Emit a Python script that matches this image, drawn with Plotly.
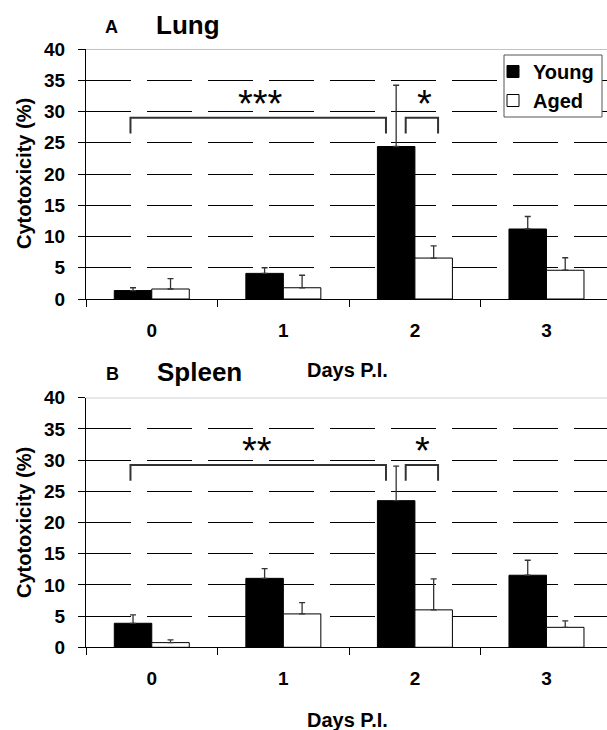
import plotly.graph_objects as go

# ---------------- data ----------------
days = ["0", "1", "2", "3"]
series_names = ["Young", "Aged"]

lung_young = [1.35, 4.1, 24.4, 11.2]
lung_young_err = [0.45, 0.9, 9.8, 2.0]
lung_aged = [1.6, 1.8, 6.55, 4.6]
lung_aged_err = [1.65, 2.0, 1.95, 2.0]

spleen_young = [3.85, 11.05, 23.5, 11.55]
spleen_young_err = [1.35, 1.55, 5.55, 2.4]
spleen_aged = [0.75, 5.35, 6.0, 3.2]
spleen_aged_err = [0.45, 1.8, 4.95, 1.05]

y_ticks = [0, 5, 10, 15, 20, 25, 30, 35, 40]

# significance marks: (label, bracket x0, bracket x1, star x)
lung_sig = [("***", -0.162, 1.78, 0.83), ("*", 1.93, 2.176, 2.074)]
spleen_sig = [("**", -0.162, 1.78, 0.80), ("*", 1.93, 2.176, 2.055)]

# ---------------- layout helpers ----------------
W, H = 607, 730
FONT = "Liberation Sans, Arial, sans-serif"


def px(x):
    return x / W


def py(y):
    return 1 - y / H


fig = go.Figure()

panels = [
    (lung_young, lung_young_err, lung_aged, lung_aged_err, "x", "y", True),
    (spleen_young, spleen_young_err, spleen_aged, spleen_aged_err, "x2", "y2", False),
]
for yv, ye, av, ae, xa, ya, show in panels:
    fig.add_trace(go.Bar(
        x=days, y=yv, name=series_names[0], xaxis=xa, yaxis=ya, showlegend=show,
        marker=dict(color="black", line=dict(color="black", width=1)),
        error_y=dict(type="data", array=ye, arrayminus=[0] * len(ye), symmetric=False,
                     color="#333", thickness=1.3, width=3),
    ))
    fig.add_trace(go.Bar(
        x=days, y=av, name=series_names[1], xaxis=xa, yaxis=ya, showlegend=show,
        marker=dict(color="white", line=dict(color="black", width=1)),
        error_y=dict(type="data", array=ae, arrayminus=[0] * len(ae), symmetric=False,
                     color="#333", thickness=1.3, width=3),
    ))

tickfont = dict(family=FONT, size=19, color="black", weight=700)

xcommon = dict(
    type="category", range=[-0.5, 3.46], domain=[px(86), 1],
    tickson="boundaries", ticks="outside", ticklen=7, tickcolor="black", tickwidth=1,
    showline=True, linecolor="black", linewidth=1, showgrid=False,
    tickfont=tickfont, ticklabelstandoff=14, automargin=False,
)
ycommon = dict(
    range=[0, 40], tickvals=y_ticks, ticks="outside", ticklen=7, tickcolor="black",
    tickwidth=1, showline=True, linecolor="black", linewidth=1,
    showgrid=True, gridcolor="black", gridwidth=1, griddash="45px,16px",
    zeroline=False, tickfont=tickfont, ticklabelstandoff=9, automargin=False,
)

fig.update_layout(
    width=W, height=H,
    margin=dict(l=0, r=0, t=0, b=0, autoexpand=False),
    paper_bgcolor="white", plot_bgcolor="white",
    barmode="group", bargap=0.43, bargroupgap=0,
    xaxis=dict(xcommon, anchor="y"),
    yaxis=dict(ycommon, domain=[py(299), py(49)], anchor="x"),
    xaxis2=dict(xcommon, anchor="y2"),
    yaxis2=dict(ycommon, domain=[py(647.3), py(397.7)], anchor="x2"),
    legend=dict(
        x=px(493), y=py(52), xanchor="left", yanchor="top",
        bgcolor="rgba(0,0,0,0)", borderwidth=0,
        font=dict(family=FONT, size=20, color="black", weight=700),
        tracegroupgap=0,
    ),
    showlegend=True,
)

shapes = []
annotations = []

# legend frame
shapes.append(dict(type="rect", xref="paper", yref="paper",
                   x0=px(504), x1=px(602), y0=py(117), y1=py(55),
                   line=dict(color="#555", width=1), fillcolor="white", layer="above"))

for sig, xa, ya, top, leg, stary in [
    (lung_sig, "x", "y", 29.0, 26.5, 31.2),
    (spleen_sig, "x2", "y2", 29.2, 26.7, 31.4),
]:
    # top gray border at 40
    shapes.append(dict(type="line", xref="paper", yref=ya, x0=px(86), x1=1, y0=40, y1=40,
                       line=dict(color="#888", width=1), layer="above"))
    for label, x0, x1, sx in sig:
        shapes.append(dict(type="path", xref=xa, yref=ya,
                           path=f"M {x0},{leg} L {x0},{top} L {x1},{top} L {x1},{leg}",
                           line=dict(color="#333", width=2), layer="above"))
        annotations.append(dict(xref=xa, yref=ya, x=sx, y=stary, text=label,
                                showarrow=False, xanchor="center", yanchor="middle",
                                font=dict(family=FONT, size=38, color="black")))

# panel titles, axis titles
titles = [
    ("A", 111, 27, 18), ("Lung", 188, 25, 26),
    ("B", 112, 374, 18), ("Spleen", 199, 372, 26),
]
for t, x, y, s in titles:
    annotations.append(dict(xref="paper", yref="paper", x=px(x), y=py(y), text=t,
                            showarrow=False, xanchor="center", yanchor="middle",
                            font=dict(family=FONT, size=s, color="black", weight=700)))

for y in [369.5, 720]:
    annotations.append(dict(xref="paper", yref="paper", x=px(347.5), y=py(y), text="Days P.I.",
                            showarrow=False, xanchor="center", yanchor="middle",
                            font=dict(family=FONT, size=20, color="black", weight=700)))
for y in [174, 523]:
    annotations.append(dict(xref="paper", yref="paper", x=px(24), y=py(y),
                            text="Cytotoxicity (%)", textangle=-90,
                            showarrow=False, xanchor="center", yanchor="middle",
                            font=dict(family=FONT, size=20, color="black", weight=700)))

fig.update_layout(shapes=shapes, annotations=annotations)

fig.write_html("out.html")
